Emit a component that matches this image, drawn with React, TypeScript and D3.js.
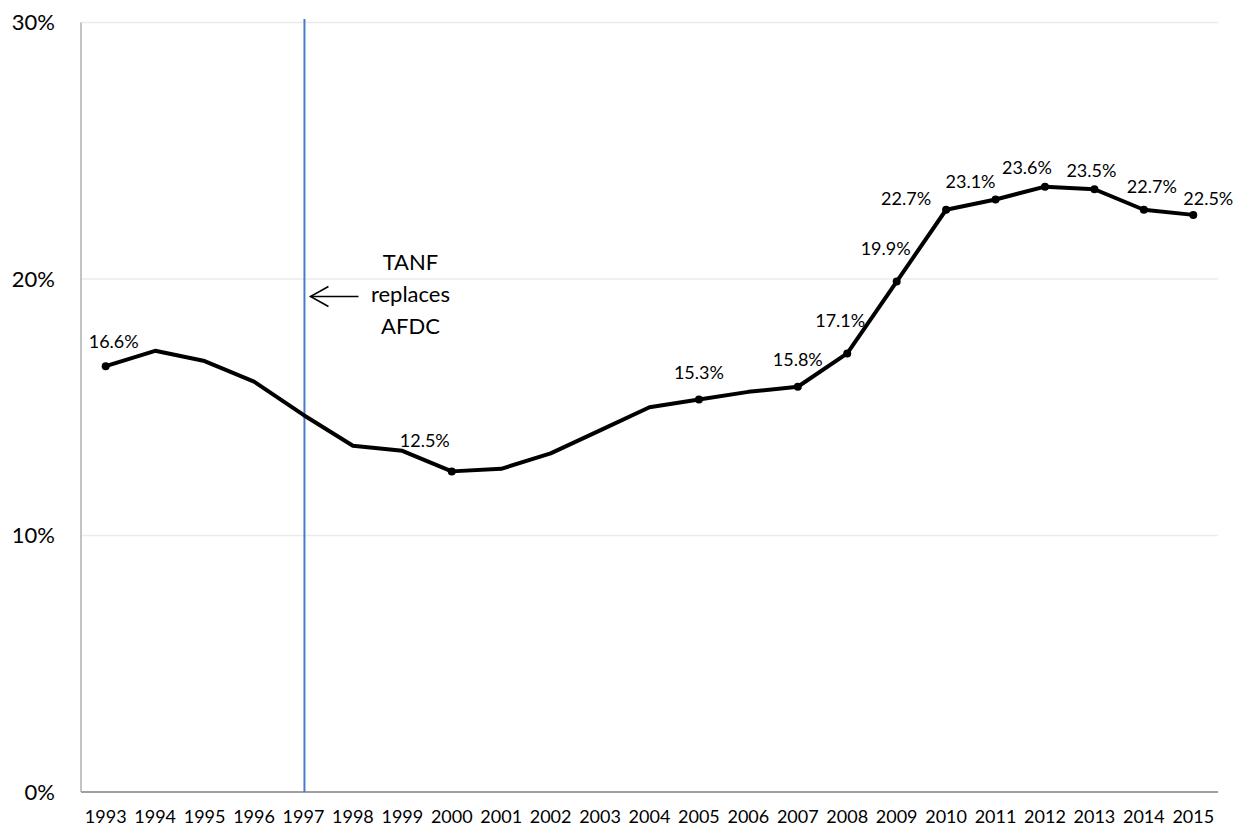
import React from "react";
import * as d3 from "d3";

const years = [1993,1994,1995,1996,1997,1998,1999,2000,2001,2002,2003,2004,2005,2006,2007,2008,2009,2010,2011,2012,2013,2014,2015];
const values = [16.6,17.2,16.8,16.0,14.7,13.5,13.3,12.5,12.6,13.2,14.1,15.0,15.3,15.6,15.8,17.1,19.9,22.7,23.1,23.6,23.5,22.7,22.5];
const labeledYears = [1993,2000,2005,2007,2008,2009,2010,2011,2012,2013,2014,2015];
// label offsets relative to the point (dx, dy of text centre)
const labelDx = [8,-27,0,0,-7,-11,-40,-25,-18,-3,8,15];
const labelDy = [-25,-31,-27,-27,-33,-33,-11,-18,-19,-19,-23,-16];
const yTicks = [0,10,20,30];
const policyYear = 1997;
const annotationLines = ["TANF","replaces","AFDC"];

const W = 1242, H = 829;
const m = { left: 81, right: 24, top: 22.5, bottom: 37 };

export default function App() {
  const x = d3.scaleBand<number>().domain(years).range([m.left, W - m.right]).padding(0);
  const y = d3.scaleLinear().domain([0, 30]).range([H - m.bottom, m.top]);
  const cx = (yr: number) => (x(yr) as number) + x.bandwidth() / 2;
  const line = d3.line<number>().x((_, i) => cx(years[i])).y((v) => y(v));
  const font = "Lato, 'Open Sans', sans-serif";
  const px = cx(policyYear) + 1;
  const annX = px + 106;
  const arrowY = 296.5;
  return (
    <svg width={W} height={H} style={{ position: "absolute", left: 0, top: 0, background: "#fff" }} fontFamily={font}>
      {yTicks.filter((t) => t > 0).map((t) => (
        <line key={t} x1={m.left} x2={W - m.right} y1={y(t)} y2={y(t)} stroke="#ebebeb" strokeWidth={1.5} />
      ))}
      <line x1={m.left} x2={m.left} y1={y(30)} y2={y(0)} stroke="#b0b0b0" strokeWidth={1.5} />
      <line x1={m.left} x2={W - m.right} y1={y(0)} y2={y(0)} stroke="#a0a0a0" strokeWidth={2} />
      {yTicks.map((t) => (
        <text key={t} x={55} y={y(t)} dy="0.36em" textAnchor="end" fontSize={22} fill="#000">{t}%</text>
      ))}
      {years.map((yr) => (
        <text key={yr} x={cx(yr)} y={823} textAnchor="middle" fontSize={18} fill="#000">{yr}</text>
      ))}
      <line x1={px} x2={px} y1={19} y2={y(0)} stroke="#4a7bc8" strokeWidth={2} />
      <path d={line(values) as string} fill="none" stroke="#000" strokeWidth={4} strokeLinejoin="round" />
      {labeledYears.map((yr, i) => {
        const idx = years.indexOf(yr);
        const v = values[idx];
        return (
          <g key={yr}>
            <circle cx={cx(yr)} cy={y(v)} r={4} fill="#000" />
            <text x={cx(yr) + labelDx[i]} y={y(v) + labelDy[i]} dy="0.36em" textAnchor="middle" fontSize={18} fill="#000">{v.toFixed(1)}%</text>
          </g>
        );
      })}
      {annotationLines.map((s, i) => (
        <text key={s} x={annX} y={270 + i * 32} textAnchor="middle" fontSize={22} fill="#000">{s}</text>
      ))}
      <g stroke="#000" strokeWidth={1.5} fill="none">
        <line x1={px + 6} x2={px + 54} y1={arrowY} y2={arrowY} />
        <polyline points={`${px + 24},${arrowY - 10} ${px + 6},${arrowY} ${px + 24},${arrowY + 10}`} />
      </g>
    </svg>
  );
}
